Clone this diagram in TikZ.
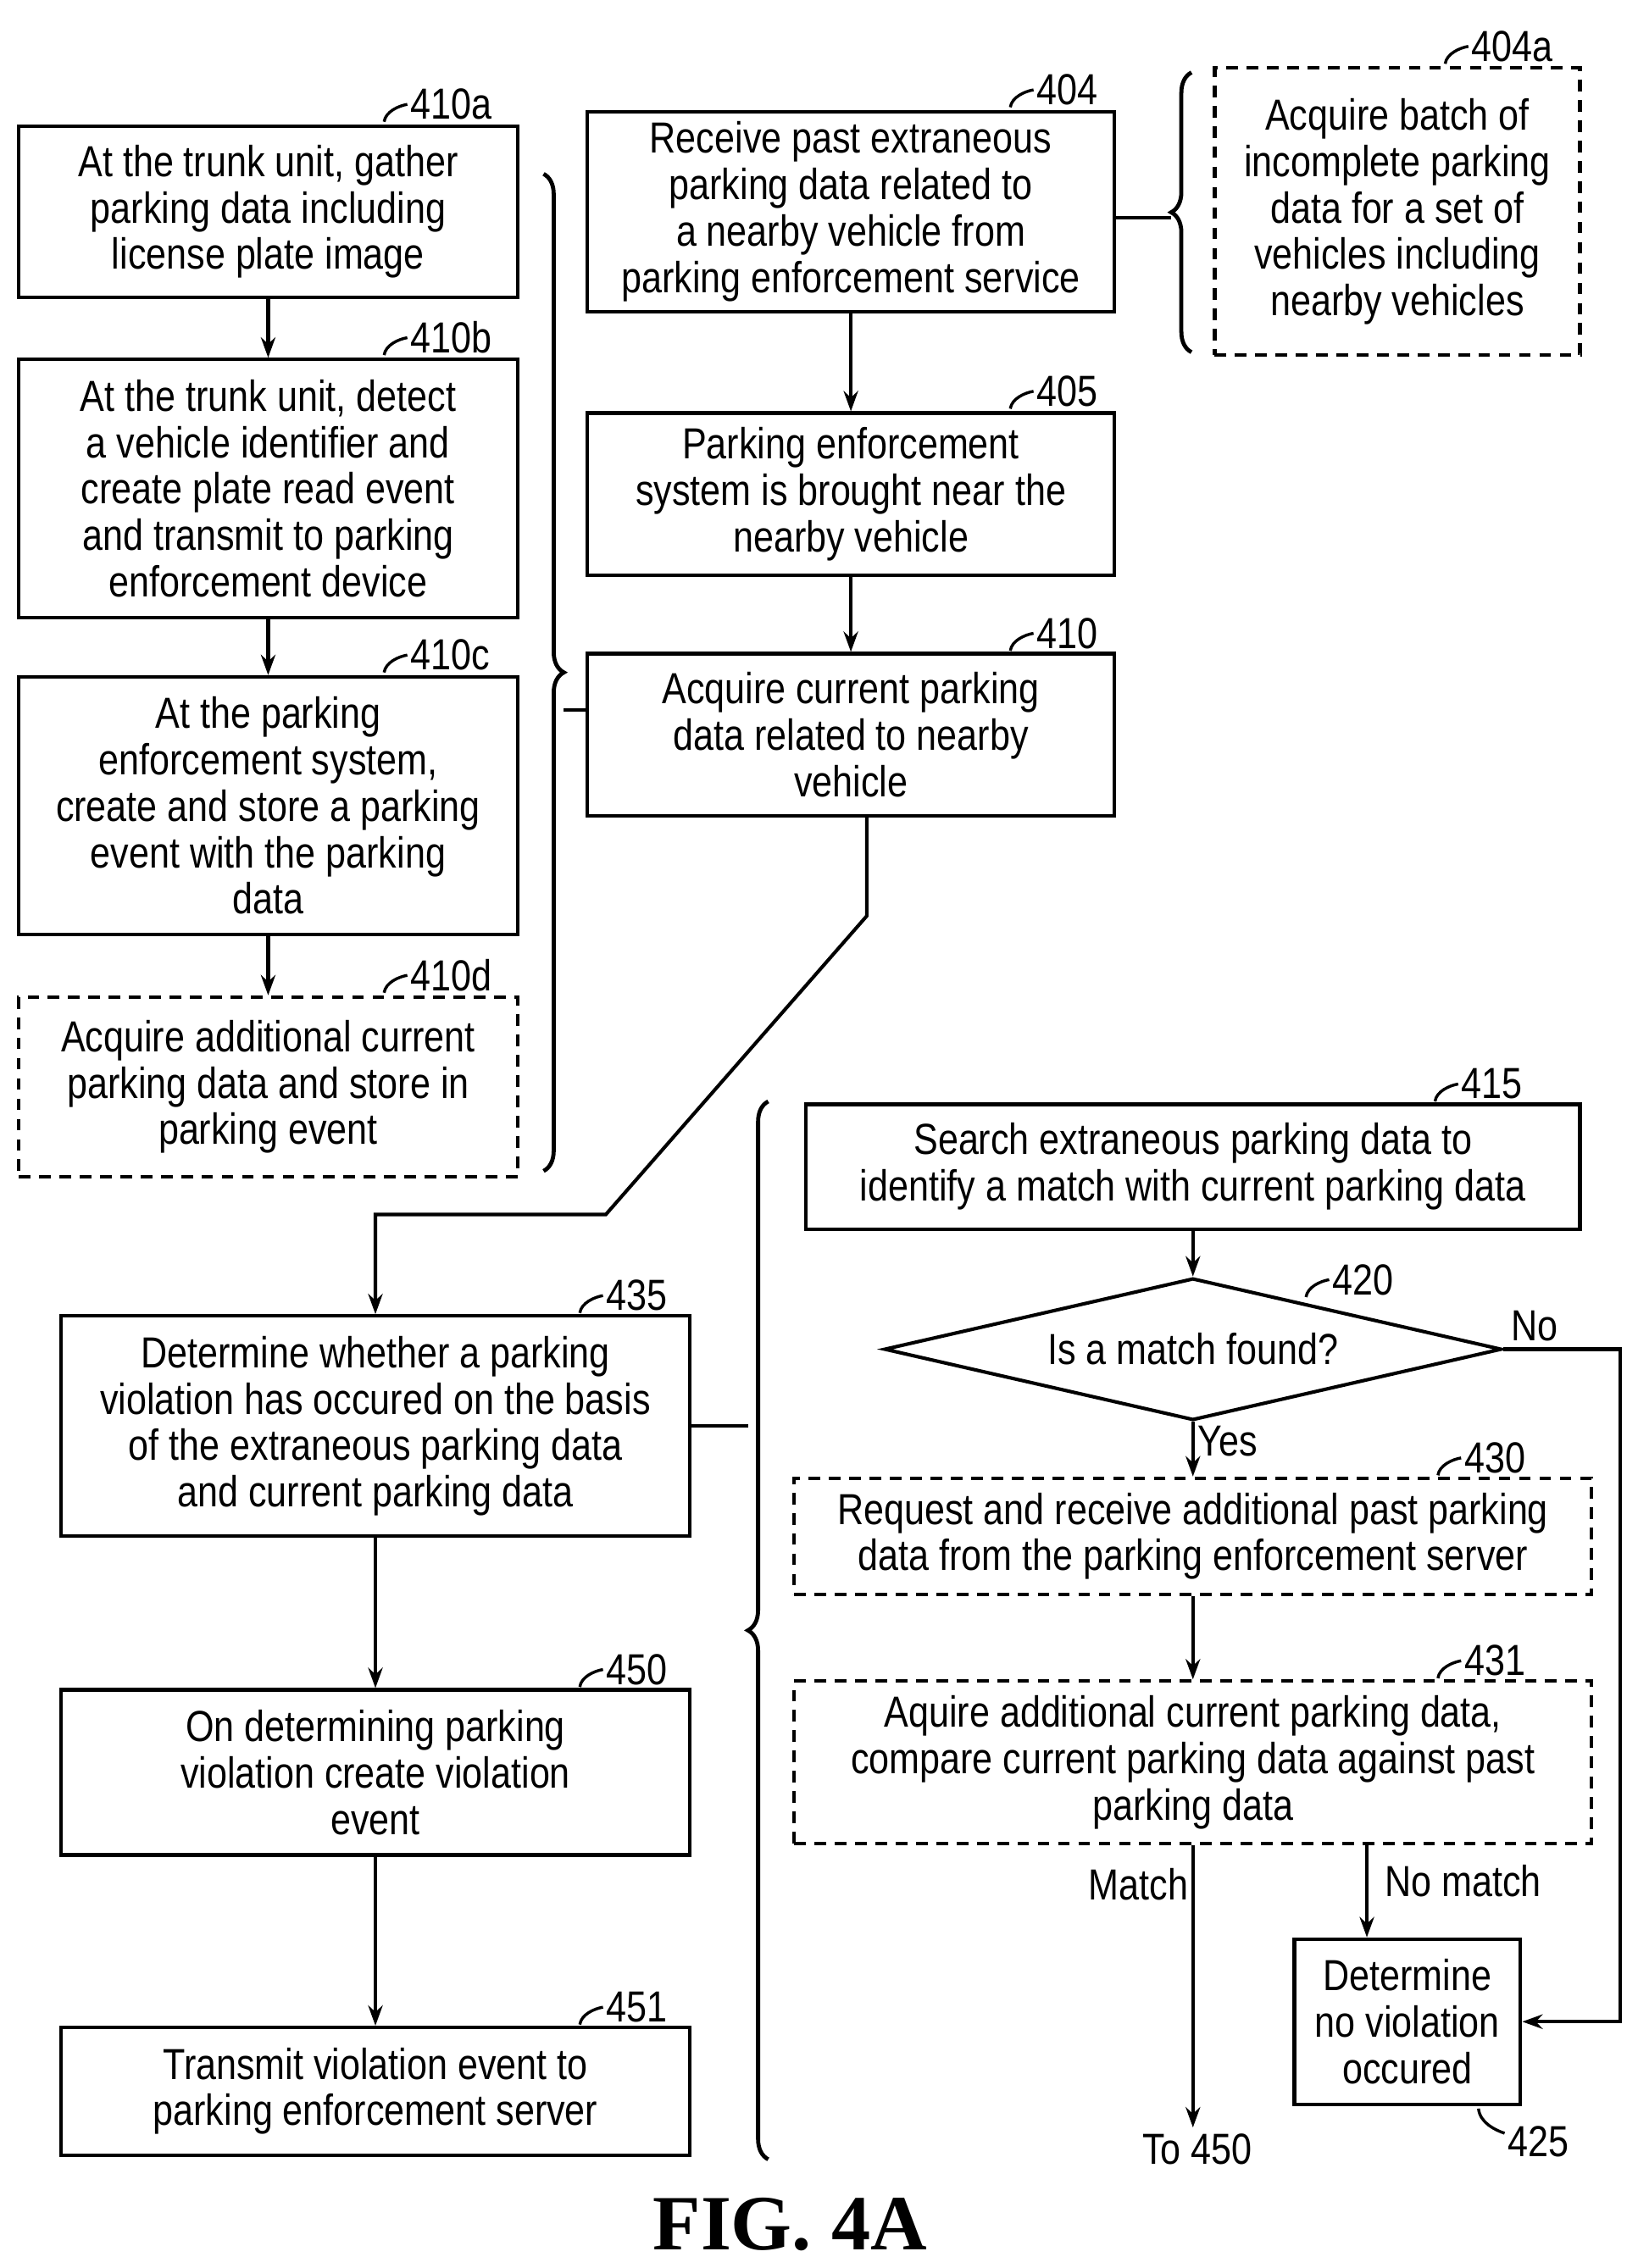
\documentclass[tikz,border=0pt]{standalone}
\usepackage{fontspec}
\setmainfont{Liberation Sans}[FakeStretch=0.84]
\newfontfamily\figfont{Liberation Serif}
\usetikzlibrary{arrows.meta,shapes.geometric,decorations.pathreplacing}
\tikzset{
  box/.style={draw, line width=1.2pt, align=center, inner sep=0pt,
    font=\fontsize{15}{16}\selectfont},
  opt/.style={box, dashed, dash pattern=on 4pt off 3pt},
  flow/.style={line width=1.2pt, -{Stealth[length=7pt,width=5pt]}},
  brc/.style={line width=1.4pt, decorate, decoration={brace, amplitude=7pt}},
  num/.style={font=\fontsize{15}{16}\selectfont, anchor=west, inner sep=1pt},
}
% hook and reference number above a box
\newcommand{\reftag}[3]{%
  \draw[line width=1pt] (#1) .. controls ++(1,-7) and ++(-6,1) .. ++(16,-12) coordinate (t);
  \node[num] (#2) at (t) {#3};}
\begin{document}
\begin{tikzpicture}[x=0.5pt,y=-0.5pt]
\useasboundingbox (0,0) rectangle (1130,1565);

% left column
\node[box, minimum width=172pt, minimum height=59pt] (s410a) at (185,146)
  {At the trunk unit, gather\\parking data including\\license plate image};
\node[box, minimum width=172pt, minimum height=89pt] (s410b) at (185,337)
  {At the trunk unit, detect\\a vehicle identifier and\\create plate read event\\and transmit to parking\\enforcement device};
\node[box, minimum width=172pt, minimum height=89pt] (s410c) at (185,556)
  {At the parking\\enforcement system,\\create and store a parking\\event with the parking\\data};
\node[opt, minimum width=172pt, minimum height=62pt] (s410d) at (185,750)
  {Acquire additional current\\parking data and store in\\parking event};
\draw[flow] (s410a) -- (s410b);
\draw[flow] (s410b) -- (s410c);
\draw[flow] (s410c) -- (s410d);
\reftag{265,84}{n410a}{410a}
\reftag{265,245}{n410b}{410b}
\reftag{265,464}{n410c}{410c}
\reftag{265,685}{n410d}{410d}

% middle column
\node[box, minimum width=182pt, minimum height=69pt] (s404) at (587,146)
  {Receive past extraneous\\parking data related to\\a nearby vehicle from\\parking enforcement service};
\node[box, minimum width=182pt, minimum height=56pt] (s405) at (587,341)
  {Parking enforcement\\system is brought near the\\nearby vehicle};
\node[box, minimum width=182pt, minimum height=56pt] (s410) at (587,507)
  {Acquire current parking\\data related to nearby\\vehicle};
\node[opt, minimum width=126pt, minimum height=99pt] (s404a) at (964,146)
  {Acquire batch of\\incomplete parking\\data for a set of\\vehicles including\\nearby vehicles};
\draw[flow] (s404) -- (s405);
\draw[flow] (s405) -- (s410);
\reftag{697,74}{n404}{404}
\reftag{697,282}{n405}{405}
\reftag{697,449}{n410}{410}
\reftag{997,44}{n404a}{404a}

% braces
\draw[brc] (375,120) -- (375,808);
\draw[line width=1.2pt] (389,490) -- (s410.west |- 0,490);
\draw[brc] (822,243) -- (822,50);
\draw[line width=1.2pt] (808,150) -- (s404.east |- 0,150);

% lower left
\node[box, minimum width=217pt, minimum height=76pt] (s435) at (259,984)
  {Determine whether a parking\\violation has occured on the basis\\of the extraneous parking data\\and current parking data};
\node[box, minimum width=217pt, minimum height=57pt] (s450) at (259,1223)
  {On determining parking\\violation create violation\\event};
\node[box, minimum width=217pt, minimum height=44pt] (s451) at (259,1443)
  {Transmit violation event to\\parking enforcement server};
\coordinate (k1) at (598,632);
\coordinate (k2) at (418,838);
\draw[flow] (s410.south -| k1) -- (k1) -- (k2) -- (k2 -| s435.north) -- (s435.north);
\draw[flow] (s435) -- (s450);
\draw[flow] (s450) -- (s451);
\reftag{400,906}{n435}{435}
\reftag{400,1164}{n450}{450}
\reftag{400,1397}{n451}{451}

% lower right
\draw[brc] (530,1490) -- (530,760);
\draw[line width=1.2pt] (516,984) -- (s435.east |- 0,984);
\node[box, minimum width=267pt, minimum height=43pt] (s415) at (823,805)
  {Search extraneous parking data to\\identify a match with current parking data};
\node[box, diamond, aspect=4.4, minimum width=213pt, minimum height=49pt] (s420) at (823,931)
  {Is a match found?};
\node[opt, minimum width=275pt, minimum height=40pt] (s430) at (823,1060)
  {Request and receive additional past parking\\data from the parking enforcement server};
\node[opt, minimum width=275pt, minimum height=56pt] (s431) at (823,1216)
  {Aquire additional current parking data,\\compare current parking data against past\\parking data};
\node[box, minimum width=78pt, minimum height=57pt] (s425) at (971,1395)
  {Determine\\no violation\\occured};
\coordinate (to450) at (823,1468);
\node[num, anchor=north] at (826,1470) {To 450};
\draw[flow] (s415) -- (s420);
\draw[flow] (s420) -- node[num, pos=0.35] {Yes} (s430);
\draw[flow] (s430) -- (s431);
\draw[flow] (s431.south) -- node[num, anchor=east, pos=0.14] {Match} (to450);
\coordinate (m1) at (943,1272);
\draw[flow] (m1) -- (m1 |- s425.north);
\node[num] at (953,1298) {No match};
\coordinate (r1) at (1118,931);
\draw[flow] (s420.east) -- (r1) -- (r1 |- s425.east) -- (s425.east);
\node[num] at (1040,915) {No};
\reftag{990,760}{n415}{415}
\reftag{901,895}{n420}{420}
\reftag{992,1018}{n430}{430}
\reftag{992,1158}{n431}{431}
\draw[line width=1pt] (1020,1455) .. controls ++(1,10) and ++(-6,-2) .. (1038,1472);
\node[num] (n425) at (1038,1478) {425};

\node[font=\fontsize{27}{30}\selectfont\figfont\bfseries] (fig) at (545,1535) {FIG. 4A};
\end{tikzpicture}
\end{document}
